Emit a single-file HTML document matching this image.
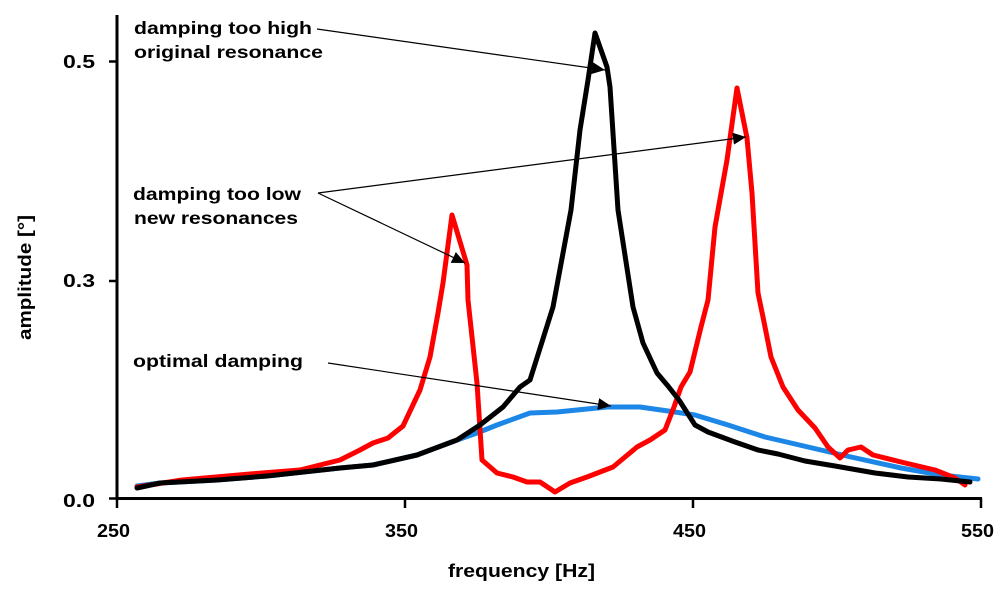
<!DOCTYPE html>
<html>
<head>
<meta charset="utf-8">
<style>
html,body{margin:0;padding:0;background:#fff;}
svg{display:block;}
text{font-family:"Liberation Sans",Arial,sans-serif;font-weight:bold;fill:#000;}
</style>
</head>
<body>
<svg width="1008" height="596" viewBox="0 0 1008 596" xmlns="http://www.w3.org/2000/svg">
<defs>
<marker id="ah" markerUnits="userSpaceOnUse" markerWidth="14" markerHeight="12" refX="13" refY="6" orient="auto">
<path d="M0,0 L13,6 L0,12 Z" fill="#000"/>
</marker>
</defs>
<rect width="1008" height="596" fill="#fff"/>

<!-- axes -->
<line x1="117" y1="15" x2="117" y2="500" stroke="#000" stroke-width="3"/>
<line x1="116" y1="498.5" x2="982" y2="498.5" stroke="#000" stroke-width="3"/>
<g stroke="#000" stroke-width="2.5">
<line x1="109" y1="61.5" x2="117" y2="61.5"/>
<line x1="109" y1="281" x2="117" y2="281"/>
<line x1="109" y1="498.5" x2="117" y2="498.5"/>
<line x1="117" y1="498" x2="117" y2="508"/>
<line x1="405" y1="498" x2="405" y2="508"/>
<line x1="693" y1="498" x2="693" y2="508"/>
<line x1="981" y1="498" x2="981" y2="508"/>
</g>

<!-- tick labels -->
<g font-size="18">
<text x="63" y="68" textLength="32" lengthAdjust="spacingAndGlyphs">0.5</text>
<text x="63" y="287" textLength="32" lengthAdjust="spacingAndGlyphs">0.3</text>
<text x="63" y="507" textLength="32" lengthAdjust="spacingAndGlyphs">0.0</text>
<text x="97" y="537" textLength="33" lengthAdjust="spacingAndGlyphs">250</text>
<text x="385" y="537" textLength="33" lengthAdjust="spacingAndGlyphs">350</text>
<text x="673" y="537" textLength="33" lengthAdjust="spacingAndGlyphs">450</text>
<text x="961" y="537" textLength="33" lengthAdjust="spacingAndGlyphs">550</text>
</g>
<text x="448" y="577" font-size="18.5" textLength="147" lengthAdjust="spacingAndGlyphs">frequency [Hz]</text>
<text transform="translate(31,340) rotate(-90)" x="0" y="0" font-size="18" textLength="125" lengthAdjust="spacingAndGlyphs">amplitude [°]</text>

<!-- annotations -->
<g font-size="17.5">
<text x="134" y="34" textLength="178" lengthAdjust="spacingAndGlyphs">damping too high</text>
<text x="134" y="58" textLength="189" lengthAdjust="spacingAndGlyphs">original resonance</text>
<text x="133" y="200" textLength="168" lengthAdjust="spacingAndGlyphs">damping too low</text>
<text x="134" y="224" textLength="164" lengthAdjust="spacingAndGlyphs">new resonances</text>
<text x="133" y="367" textLength="170" lengthAdjust="spacingAndGlyphs">optimal damping</text>
</g>

<!-- series -->
<g fill="none" stroke-width="5" stroke-linejoin="round" stroke-linecap="round">
<polyline stroke="#1c87e6" points="137,486 160,483 217,480 267,476 340,468 373,465 417,455 457,440 477,433 497,425 530,413 557,412 607,407 640,407 668,411 695,415 728,425 765,437 808,447 851,457 901,468 941,475 978,479"/>
<polyline stroke="#ff0000" points="137,487 182,480 250,474 300,470 340,460 360,450 373,443 388,438 403,426 420,390 430,357 438,313 443,283 452,215 467,265 468,300 477,383 482,460 497,473 513,477 527,482 540,482 555,492 570,483 587,477 613,467 637,447 650,440 665,430 674,407 681,387 690,372 701,327 708,300 715,227 727,160 737,88 747,138 752,193 758,293 763,317 771,357 783,387 798,410 815,428 828,447 840,458 848,450 861,447 873,455 901,462 935,470 955,478 965,485"/>
<polyline stroke="#000" points="137,488 160,483 217,480 267,476 340,468 373,465 417,455 457,440 480,425 503,407 520,387 530,380 553,307 571,210 580,130 588,80 595,33 607,67 610,87 618,210 633,307 643,343 657,373 668,386 679,400 695,425 708,432 735,442 758,450 778,454 805,461 835,466 875,473 908,477 941,479 970,482"/>
</g>

<!-- arrows -->
<g stroke="#000" stroke-width="1.2" fill="none">
<line x1="317" y1="29" x2="605" y2="70" marker-end="url(#ah)"/>
<line x1="318" y1="193" x2="746" y2="137" marker-end="url(#ah)"/>
<line x1="318" y1="193" x2="465" y2="263" marker-end="url(#ah)"/>
<line x1="328" y1="363" x2="611" y2="406" marker-end="url(#ah)"/>
</g>
</svg>
</body>
</html>
